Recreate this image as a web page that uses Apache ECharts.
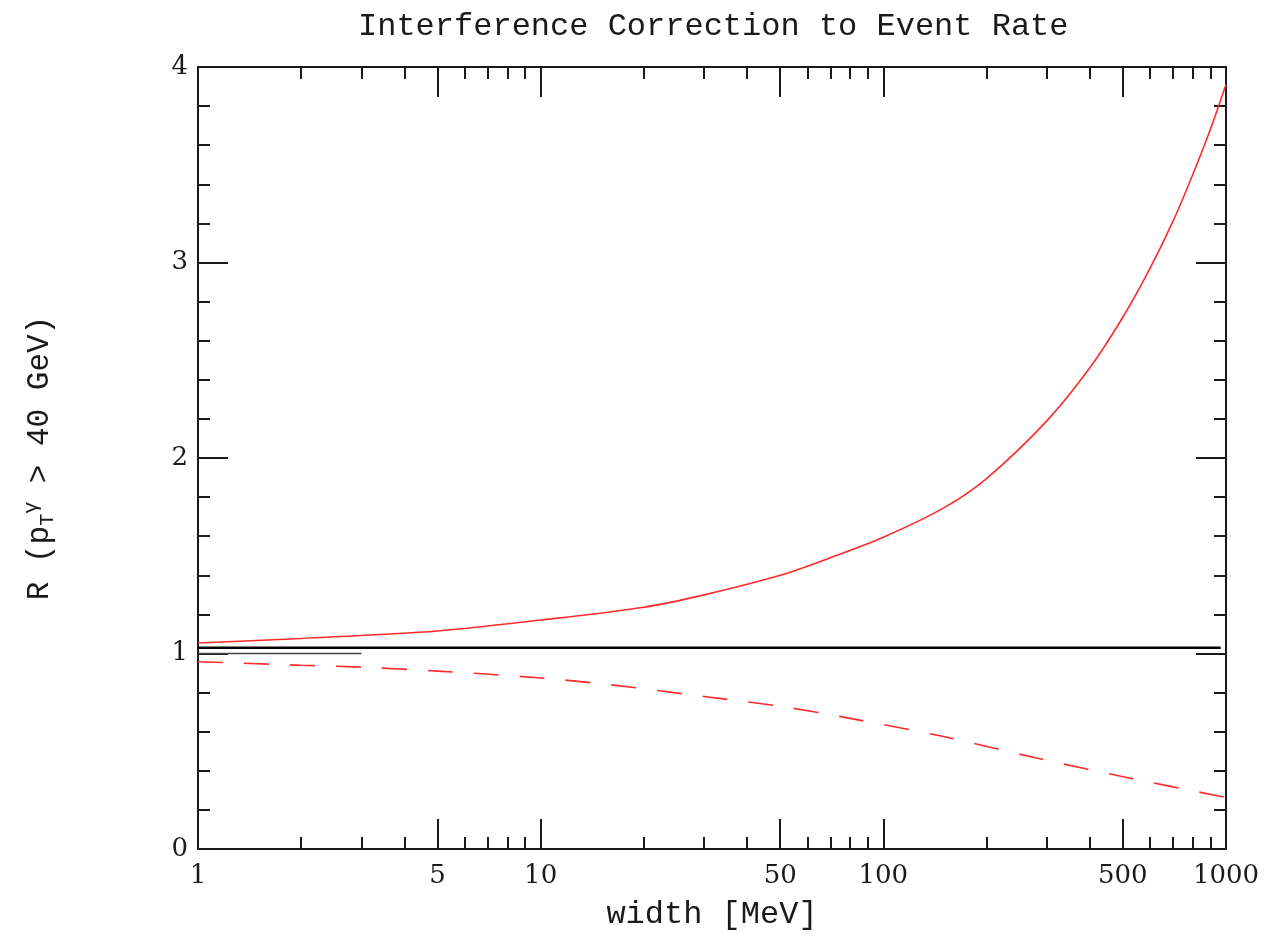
<!doctype html>
<html style="width: 100%; height: 100%"><head><meta charset="utf-8"></head>
<body style="width: 100%; height: 100%; margin: 0; background: #fff">
<div id="container" style="width: 1265px; height: 936px"></div>
<script type="text/javascript" src="https://cdn.jsdelivr.net/npm/echarts@6/dist/echarts.min.js"></script>
<script type="text/javascript">
// width [MeV] and R values
var solidWidth = [1, 2, 5, 10, 20, 30, 50, 70, 100, 150, 200, 300, 400, 500, 600, 700, 800, 900, 1000];
var solidR = [1.054, 1.077, 1.115, 1.171, 1.237, 1.30, 1.40, 1.49, 1.595, 1.745, 1.895, 2.19, 2.46, 2.72, 2.97, 3.21, 3.45, 3.68, 3.91];
var dashWidth = [1, 2, 3, 5, 10, 16, 30, 50, 80, 150, 280, 525, 1000];
var dashR = [0.958, 0.94, 0.93, 0.91, 0.875, 0.84, 0.78, 0.73, 0.668, 0.575, 0.465, 0.362, 0.264];
var refLine = [[1, 1.03], [965, 1.03]];
var shortLine = [[1, 1], [3, 1]];
var xMajor = [1, 5, 10, 50, 100, 500, 1000];
var xMinor = [2, 3, 4, 6, 7, 8, 9, 20, 30, 40, 60, 70, 80, 90, 200, 300, 400, 600, 700, 800, 900];

var dom = document.getElementById("container");
var myChart = echarts.init(dom);
var mono = '"Liberation Mono", "DejaVu Sans Mono", monospace';
var serif = '"DejaVu Serif", serif';
var ink = '#1a1a1a';

function pairs(xs, ys) {
    var out = [];
    for (var i = 0; i < xs.length; i++) out.push([xs[i], ys[i]]);
    return out;
}

function xAx(pos, ticks, len, labels, line) {
    return {
        type: 'log', logBase: 10, min: 1, max: 1000, position: pos,
        axisLine: {show: line, lineStyle: {color: ink, width: 2}},
        axisTick: {show: true, inside: true, length: len, customValues: ticks,
            lineStyle: {color: ink, width: 2}},
        minorTick: {show: false},
        axisLabel: labels ? {show: true, customValues: xMajor, margin: 14,
            fontFamily: serif, fontSize: 26, color: ink,
            formatter: function (v) { return String(Math.round(v)); }} : {show: false},
        splitLine: {show: false}
    };
}

var option = {
    animation: false,
    backgroundColor: '#fff',
    title: {
        text: 'Interference Correction to Event Rate',
        left: 353, top: 6,
        textStyle: {fontFamily: mono, fontSize: 32, fontWeight: 'normal', color: ink}
    },
    grid: {left: 198, right: 39, top: 67, bottom: 87},
    xAxis: [
        Object.assign(xAx('bottom', xMajor, 30, true, true), {
            name: 'width [MeV]', nameLocation: 'middle', nameGap: 50,
            nameTextStyle: {fontFamily: mono, fontSize: 32, color: ink}
        }),
        xAx('bottom', xMinor, 12, false, false),
        xAx('top', xMajor, 30, false, true),
        xAx('top', xMinor, 12, false, false)
    ],
    yAxis: [0, 1].map(function (i) {
        return {
            type: 'value', min: 0, max: 4, interval: 1,
            position: i === 0 ? 'left' : 'right',
            axisLine: {show: true, lineStyle: {color: ink, width: 2}},
            axisTick: {show: true, inside: true, length: 30, lineStyle: {color: ink, width: 2}},
            minorTick: {show: true, splitNumber: 5, length: 12, lineStyle: {color: ink, width: 2}},
            axisLabel: i === 0 ? {show: true, margin: 10, fontFamily: serif, fontSize: 26, color: ink} : {show: false},
            splitLine: {show: false},
            name: i === 0 ? 'R (p{sub|T}{sup|γ} > 40 GeV)' : '',
            nameLocation: 'middle', nameGap: 140, nameRotate: 90,
            nameTextStyle: {
                fontFamily: mono, fontSize: 31, color: ink,
                rich: {
                    sub: {fontFamily: mono, fontSize: 20, color: ink, padding: [16, 0, 0, 0]},
                    sup: {fontFamily: mono, fontSize: 20, color: ink, padding: [0, 0, 16, 0]}
                }
            }
        };
    }),
    series: [
        {
            type: 'line', data: pairs(solidWidth, solidR), smooth: 0.3,
            showSymbol: false, lineStyle: {color: '#ff2a2a', width: 1.6}
        },
        {
            type: 'line', data: pairs(dashWidth, dashR), smooth: 0.3,
            showSymbol: false, lineStyle: {color: '#ff2a2a', width: 1.6, type: [25, 21]}
        },
        {
            type: 'line', data: refLine, showSymbol: false,
            lineStyle: {color: '#000', width: 2.5}
        },
        {
            type: 'line', data: shortLine, showSymbol: false,
            lineStyle: {color: '#444', width: 1.5}
        }
    ]
};
myChart.setOption(option);
</script>
</body></html>
